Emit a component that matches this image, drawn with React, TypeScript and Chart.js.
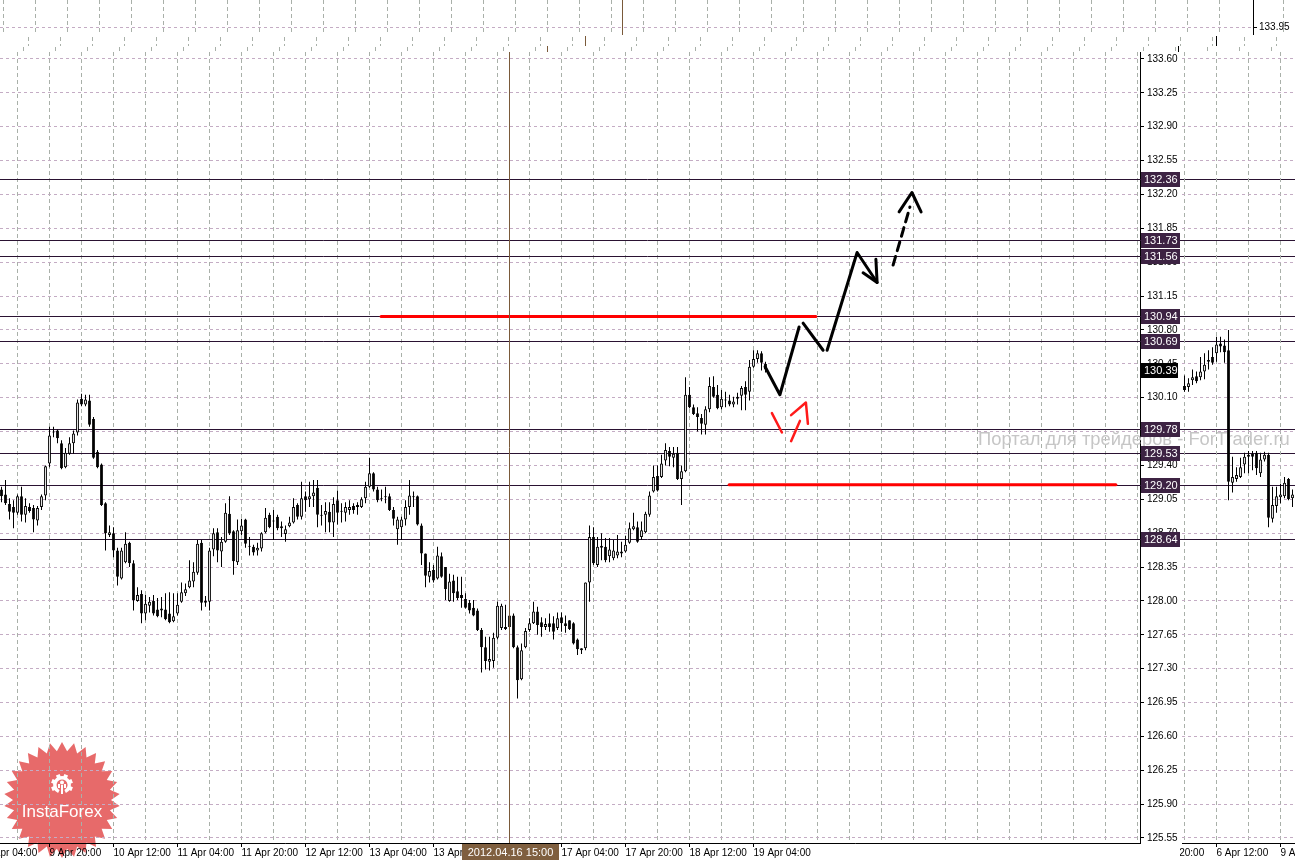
import React, { useEffect, useRef } from 'react';
import { Chart, registerables } from 'chart.js';

Chart.register(...registerables);

// ---------- main chart candles (hourly bars, index 0 = first visible bar) ----------
const mainOpen = [
  129.15,129.10,129.00,128.97,128.91,129.08,128.89,128.97,128.96,128.83,
  128.97,129.09,129.42,129.74,129.76,129.63,129.38,129.52,129.63,129.74,
  130.09,130.03,130.07,129.88,129.54,129.41,129.01,128.68,128.70,128.52,
  128.23,128.40,128.60,128.39,128.00,128.07,127.87,127.95,128.00,127.91,
  127.90,127.91,127.87,127.79,127.87,127.99,128.08,128.14,128.20,128.29,
  128.60,127.98,127.99,128.53,128.71,128.51,128.61,128.90,128.72,128.40,
  128.72,128.84,128.57,128.56,128.52,128.54,128.71,128.89,128.83,128.87,
  128.77,128.69,128.77,128.81,128.99,128.87,129.08,129.05,129.08,129.17,
  128.89,128.89,128.92,128.81,129.04,128.93,128.91,128.94,128.98,128.99,
  128.97,129.06,129.18,129.32,129.15,129.06,129.08,129.08,128.94,128.74,
  128.76,128.84,128.97,129.08,129.08,128.78,128.49,128.25,128.32,128.23,
  128.46,128.35,128.00,128.21,128.10,128.06,128.02,127.98,127.93,127.90,
  127.70,127.52,127.37,127.38,127.62,127.72,127.73,127.73,127.85,127.52,
  127.19,127.52,127.70,127.77,127.89,127.78,127.73,127.77,127.77,127.72,
  127.83,127.77,127.80,127.77,127.60,127.51,127.51,128.19,128.66,128.37,
  128.57,128.56,128.46,128.44,128.47,128.49,128.51,128.60,128.74,128.76,
  128.66,128.71,128.89,129.13,129.29,129.28,129.45,129.55,129.48,129.53,
  129.26,129.34,130.13,130.00,129.94,129.89,129.82,129.98,130.21,130.13,
  130.00,130.07,130.07,130.03,130.11,130.12,130.21,130.16,130.42,130.50,
  130.56,130.45,
];
const mainHigh = [
  129.18,129.25,129.06,129.04,129.10,129.18,129.06,129.01,128.99,128.98,
  129.10,129.40,129.80,129.80,129.77,129.66,129.58,129.69,129.76,130.08,
  130.14,130.13,130.13,129.90,129.56,129.42,129.02,128.78,128.76,128.55,
  128.55,128.71,128.61,128.42,128.14,128.11,128.06,128.04,128.06,128.03,
  128.04,128.08,128.09,128.08,128.08,128.19,128.18,128.42,128.40,128.63,
  128.63,128.05,128.55,128.75,128.75,128.66,129.01,129.08,128.73,128.84,
  128.85,128.85,128.66,128.58,128.60,128.71,128.96,128.91,128.94,128.89,
  128.82,128.78,128.87,129.06,129.01,129.23,129.13,129.23,129.25,129.25,
  128.99,129.02,129.02,129.07,129.14,129.01,129.02,129.04,129.01,129.02,
  129.07,129.23,129.48,129.33,129.18,129.15,129.18,129.11,128.97,128.87,
  128.87,129.04,129.25,129.13,129.09,128.80,128.49,128.40,128.37,128.56,
  128.50,128.35,128.28,128.27,128.25,128.25,128.08,128.01,128.01,127.92,
  127.72,127.63,127.63,127.67,127.99,127.97,127.96,127.90,127.87,127.54,
  127.56,127.72,127.82,127.99,127.94,127.83,127.82,127.87,127.84,127.88,
  127.88,127.85,127.80,127.78,127.61,127.51,128.19,128.78,128.76,128.66,
  128.70,128.65,128.65,128.63,128.68,128.61,128.67,128.81,128.91,128.82,
  128.82,128.92,129.13,129.40,129.40,129.51,129.63,129.59,129.59,129.59,
  129.40,130.31,130.21,130.03,130.00,129.93,130.01,130.31,130.32,130.23,
  130.18,130.16,130.13,130.11,130.15,130.22,130.27,130.49,130.59,130.59,
  130.58,130.47,
];
const mainLow = [
  129.02,128.99,128.84,128.75,128.89,128.82,128.81,128.91,128.71,128.78,
  128.94,129.04,129.38,129.69,129.63,129.36,129.37,129.51,129.52,129.71,
  130.01,130.01,129.80,129.47,129.37,128.98,128.52,128.66,128.45,128.16,
  128.22,128.39,128.35,127.90,127.99,127.77,127.80,127.88,127.85,127.83,
  127.83,127.80,127.77,127.78,127.85,127.98,128.05,128.13,128.14,128.27,
  127.90,127.94,127.90,128.46,128.40,128.35,128.60,128.68,128.27,128.37,
  128.68,128.55,128.47,128.47,128.47,128.51,128.70,128.75,128.63,128.73,
  128.66,128.61,128.76,128.80,128.84,128.84,128.92,128.97,128.97,128.76,
  128.78,128.71,128.71,128.66,128.79,128.81,128.82,128.89,128.90,128.89,
  128.96,129.01,129.17,129.13,129.02,129.03,129.01,128.93,128.78,128.58,
  128.63,128.78,128.89,128.97,128.78,128.37,128.14,128.19,128.19,128.22,
  128.24,128.01,127.99,127.99,128.01,127.93,127.92,127.87,127.84,127.69,
  127.26,127.29,127.28,127.31,127.60,127.70,127.70,127.70,127.51,126.99,
  127.18,127.51,127.68,127.76,127.65,127.63,127.70,127.68,127.60,127.70,
  127.68,127.67,127.70,127.55,127.44,127.45,127.49,127.99,128.37,128.35,
  128.42,128.40,128.40,128.42,128.44,128.45,128.50,128.59,128.73,128.60,
  128.63,128.70,128.87,129.12,129.13,129.27,129.40,129.39,129.38,129.25,
  128.99,129.33,129.99,129.92,129.75,129.72,129.72,129.95,130.10,129.98,
  129.98,130.00,130.01,130.00,130.03,129.97,129.97,130.07,130.41,130.46,
  130.38,130.36,
];
const mainClose = [
  129.08,129.01,128.92,128.91,129.08,128.89,128.98,128.93,128.84,128.96,
  129.08,129.39,129.71,129.75,129.68,129.37,129.53,129.63,129.73,130.05,
  130.03,130.08,129.82,129.48,129.38,128.99,128.70,128.71,128.52,128.25,
  128.52,128.59,128.39,128.01,128.06,127.87,127.97,127.99,127.87,127.84,
  127.92,127.81,127.78,127.84,127.96,128.09,128.12,128.21,128.30,128.59,
  127.98,128.00,128.52,128.70,128.52,128.61,128.91,128.70,128.41,128.73,
  128.78,128.59,128.56,128.50,128.55,128.70,128.86,128.76,128.82,128.75,
  128.75,128.74,128.81,128.97,128.87,129.06,129.04,129.08,129.12,128.89,
  128.88,128.93,128.81,129.00,128.91,128.92,128.97,128.97,128.94,128.97,
  129.05,129.18,129.32,129.15,129.04,129.05,129.07,128.94,128.85,128.84,
  128.84,128.97,129.09,129.07,128.79,128.49,128.26,128.31,128.21,128.47,
  128.25,128.12,128.20,128.08,128.03,128.03,127.93,127.90,127.85,127.70,
  127.52,127.38,127.40,127.62,127.95,127.95,127.71,127.85,127.52,127.18,
  127.49,127.69,127.77,127.89,127.75,127.73,127.76,127.73,127.68,127.82,
  127.77,127.74,127.71,127.56,127.50,127.49,128.19,128.66,128.39,128.56,
  128.55,128.42,128.53,128.52,128.51,128.51,128.58,128.75,128.77,128.61,
  128.73,128.90,129.09,129.28,129.14,129.42,129.56,129.49,129.52,129.26,
  129.34,130.13,130.00,129.93,129.90,129.83,129.98,130.22,130.11,129.99,
  130.09,130.08,130.03,130.06,130.09,130.20,130.13,130.42,130.50,130.56,
  130.46,130.39,
];

// ---------- right-hand fragment candles ----------
const sideOpen = [130.22,130.21,130.28,130.32,130.31,130.37,130.47,130.52,130.56,130.66,130.64,130.59,129.22,129.26,129.28,129.41,129.49,129.52,129.53,129.32,129.46,129.51,128.85,128.98,129.07,129.08,129.26,129.06];
const sideHigh = [130.33,130.30,130.39,130.37,130.52,130.56,130.59,130.62,130.73,130.73,130.70,130.80,129.49,129.38,129.48,129.53,129.55,129.55,129.55,129.53,129.54,129.53,129.18,129.18,129.21,129.28,129.27,129.15];
const sideLow = [130.16,130.16,130.23,130.25,130.28,130.29,130.39,130.44,130.47,130.57,130.46,129.04,129.12,129.23,129.27,129.32,129.32,129.35,129.30,129.28,129.44,128.76,128.81,128.91,129.01,129.06,129.04,128.97];
const sideClose = [130.18,130.25,130.31,130.27,130.37,130.44,130.49,130.46,130.65,130.63,130.57,129.23,129.28,129.30,129.38,129.49,129.51,129.49,129.37,129.46,129.51,128.86,128.99,129.08,129.10,129.22,129.05,129.10];

// ---------- axes ----------
const priceTicks = [125.55,125.90,126.25,126.60,126.95,127.30,127.65,128.00,128.35,128.70,129.05,129.40,129.75,130.10,130.45,130.80,131.15,131.50,131.85,132.20,132.55,132.90,133.25,133.60];
const priceMin = 125.498;
const priceMax = 133.672;
const mainTimeLabels = ['9 Apr 04:00','9 Apr 20:00','10 Apr 12:00','11 Apr 04:00','11 Apr 20:00','12 Apr 12:00','13 Apr 04:00','13 Apr 20:00','16 Apr 12:00','17 Apr 04:00','17 Apr 20:00','18 Apr 12:00','19 Apr 04:00'];
const mainLabelStart = -4; // bar index of the first time label
const sideTimeLabels = ['5 Apr 20:00','6 Apr 12:00','9 Apr 04:00'];
const sideLabelStart = -8;
const barsPerLabel = 16;
const barsPerGrid = 8;

// ---------- levels & annotations ----------
const levelValues = [132.36,131.73,131.56,130.94,130.69,129.78,129.53,129.20,128.64];
const currentPrice = 130.39;
const crosshairBar = 127;
const crosshairLabel = '2012.04.16 15:00';
const topStripLabel = '133.95';
const watermark = 'Портал для трейдеров - ForTrader.ru';
const logoText = 'InstaForex';

const redSegments = [
  [[94.9,130.94],[203.6,130.94]],
  [[181.9,129.20],[278.6,129.20]],
];
const forecastSolid = [
  [[190.9,130.42],[194.6,130.13],[199.4,130.83]],
  [[200.4,130.87],[205.4,130.59]],
  [[206.4,130.59],[213.9,131.60],[218.9,131.29]],
  [[215.4,131.39],[218.9,131.29],[218.6,131.53]],
  [[224.4,132.02],[227.6,132.22],[229.9,132.02]],
];
const forecastDashed = [
  [[222.9,131.47],[227.1,132.07]],
];
const altForecast = [
  [[192.6,129.94],[195.1,129.74]],
  [[197.4,129.65],[199.6,129.86]],
  [[197.4,129.92],[201.1,130.05],[201.6,129.83]],
];

const FONT = '"Liberation Sans", Arial, sans-serif';
const H_GRID = '#c4acc4';
const V_GRID = '#a9b0a9';
const LEVEL = '#2a1232';

Chart.defaults.font.family = FONT;

function candleSets(open: number[], high: number[], low: number[], close: number[]) {
  const wick = open.map((_, i) => ({ x: i, y: [low[i], high[i]] }));
  const body = open.map((o, i) => ({ x: i, y: [o, close[i]] }));
  const fills = open.map((o, i) => (close[i] > o ? '#ffffff' : '#000000'));
  return [
    { type: 'bar', data: wick, backgroundColor: '#000000', borderWidth: 0, maxBarThickness: 1, grouped: false, inflateAmount: 0, order: 3 },
    { type: 'bar', data: body, backgroundColor: fills, borderColor: '#000000', borderWidth: 1, borderSkipped: false, maxBarThickness: 3, grouped: false, inflateAmount: 0, minBarLength: 1, order: 2 },
  ];
}

function lineSet(pts: number[][], color: string, width: number, dash: number[] = []) {
  return {
    type: 'line',
    data: pts.map(([x, y]) => ({ x, y })),
    borderColor: color,
    borderWidth: width,
    borderDash: dash,
    pointRadius: 0,
    fill: false,
    tension: 0,
    borderCapStyle: 'round',
    borderJoinStyle: 'round',
    order: 0,
  };
}

function labelAt(v: number, start: number, labels: string[]) {
  const k = (v - start) / barsPerLabel;
  if (Math.abs(k - Math.round(k)) < 1e-6) {
    const r = Math.round(k);
    if (r >= 0 && r < labels.length) return labels[r];
  }
  return '';
}

function seg(ctx: CanvasRenderingContext2D, x1: number, y1: number, x2: number, y2: number) {
  ctx.beginPath();
  ctx.moveTo(x1, y1);
  ctx.lineTo(x2, y2);
  ctx.stroke();
}

// time labels whose tick lies left of the visible range (only their tail shows)
function offRangeLabels(id: string, start: number, labels: string[]) {
  return {
    id,
    afterDraw(chart: any) {
      const xs = chart.scales.x;
      const ctx = chart.ctx;
      ctx.save();
      ctx.fillStyle = '#000000';
      ctx.font = `10px ${FONT}`;
      ctx.textAlign = 'left';
      ctx.textBaseline = 'middle';
      labels.forEach((lab, k) => {
        const v = start + k * barsPerLabel;
        if (v < xs.min) ctx.fillText(lab, xs.getPixelForValue(v), xs.top + 10);
      });
      ctx.restore();
    },
  };
}

function drawTopStrip(ctx: CanvasRenderingContext2D) {
  ctx.lineWidth = 1;
  ctx.setLineDash([4, 3]);
  ctx.strokeStyle = V_GRID;
  for (let x = 3.5; x < 1295; x += 32) if (Math.abs(x - 1253.5) > 4) seg(ctx, x, 0, x, 35);
  for (let x = 28.5; x < 1295; x += 32) seg(ctx, x, 37, x, 46);
  for (let x = 23.5; x < 1295; x += 32) seg(ctx, x, 47, x, 52);
  ctx.setLineDash([3, 3]);
  ctx.strokeStyle = H_GRID;
  seg(ctx, 0, 27.5, 1252, 27.5);
  ctx.setLineDash([]);
  ctx.strokeStyle = '#000';
  seg(ctx, 1253.5, 0, 1253.5, 35);
  seg(ctx, 1254, 27.5, 1257, 27.5);
  seg(ctx, 1216.5, 36, 1216.5, 46);
  seg(ctx, 1178.5, 46, 1178.5, 52);
  ctx.strokeStyle = '#7a5a3a';
  seg(ctx, 622.5, 0, 622.5, 35);
  seg(ctx, 585.5, 36, 585.5, 46);
  seg(ctx, 547.5, 46, 547.5, 52);
  ctx.fillStyle = '#000';
  ctx.font = `10px ${FONT}`;
  ctx.textAlign = 'left';
  ctx.textBaseline = 'middle';
  ctx.fillText(topStripLabel, 1259, 27.5);
}

function drawStar(ctx: CanvasRenderingContext2D) {
  const cx = 62, cy = 800, ro = 58, ri = 49, n = 30;
  ctx.fillStyle = 'rgba(222,48,48,0.72)';
  ctx.beginPath();
  for (let k = 0; k < 2 * n; k++) {
    const r = k % 2 ? ri : ro;
    const a = -Math.PI / 2 + (k * Math.PI) / n;
    const px = cx + r * Math.cos(a);
    const py = cy + r * Math.sin(a);
    if (k === 0) ctx.moveTo(px, py); else ctx.lineTo(px, py);
  }
  ctx.closePath();
  ctx.fill();
}

function drawLogoMark(ctx: CanvasRenderingContext2D) {
  const gx = 62, gy = 785;
  ctx.fillStyle = '#ffffff';
  for (let k = 0; k < 8; k++) {
    const a = (k * Math.PI) / 4 + Math.PI / 8;
    if (Math.abs(a - Math.PI / 2) < 0.5) continue;
    ctx.save();
    ctx.translate(gx, gy);
    ctx.rotate(a);
    ctx.fillRect(7, -2, 4, 4);
    ctx.restore();
  }
  ctx.beginPath();
  ctx.arc(gx, gy, 9, Math.PI / 2 + 0.45, Math.PI / 2 - 0.45 + Math.PI * 2);
  ctx.arc(gx, gy, 5.5, Math.PI / 2 - 0.45 + Math.PI * 2, Math.PI / 2 + 0.45, true);
  ctx.closePath();
  ctx.fill();
  ctx.beginPath();
  ctx.arc(gx, gy - 2.5, 2, 0, Math.PI * 2);
  ctx.fill();
  ctx.fillRect(gx - 1, gy, 2, 9);
  ctx.fillRect(gx - 4, gy - 1, 2, 4);
  ctx.fillRect(gx + 2, gy - 1, 2, 4);
  ctx.font = `17px ${FONT}`;
  ctx.textAlign = 'center';
  ctx.textBaseline = 'middle';
  ctx.fillText(logoText, 62, 812);
}

const mainDecor = {
  id: 'mainDecor',
  beforeDraw(chart: any) {
    const ctx = chart.ctx;
    ctx.save();
    ctx.fillStyle = '#ffffff';
    ctx.fillRect(0, 0, chart.width, chart.height);
    drawTopStrip(ctx);
    drawStar(ctx);
    ctx.restore();
  },
  beforeDatasetsDraw(chart: any) {
    const ctx = chart.ctx;
    const ys = chart.scales.y;
    ctx.save();
    ctx.strokeStyle = LEVEL;
    ctx.lineWidth = 1;
    levelValues.forEach((v) => {
      const py = Math.round(ys.getPixelForValue(v)) + 0.5;
      seg(ctx, 0, py, chart.width, py);
    });
    ctx.restore();
  },
  afterDatasetsDraw(chart: any) {
    const ctx = chart.ctx;
    const a = chart.chartArea;
    const px = Math.floor(chart.scales.x.getPixelForValue(crosshairBar)) + 0.5;
    ctx.save();
    ctx.strokeStyle = '#7a5a3a';
    ctx.lineWidth = 1;
    seg(ctx, px, a.top, px, a.bottom);
    ctx.restore();
  },
  afterDraw(chart: any) {
    const ctx = chart.ctx;
    const ys = chart.scales.y;
    const a = chart.chartArea;
    ctx.save();
    // watermark
    ctx.fillStyle = '#c6c6c6';
    ctx.font = `17px ${FONT}`;
    ctx.textAlign = 'left';
    ctx.textBaseline = 'middle';
    const w = ctx.measureText(watermark).width;
    const size = (17 * 312) / w;
    ctx.font = `${size.toFixed(2)}px ${FONT}`;
    ctx.fillText(watermark, 978, 440);
    // level boxes
    ctx.font = `11px ${FONT}`;
    levelValues.forEach((v) => {
      const py = Math.round(ys.getPixelForValue(v));
      ctx.fillStyle = '#3d2343';
      ctx.fillRect(a.right + 1, py - 7, 39, 15);
      ctx.fillStyle = '#ffffff';
      ctx.fillText(v.toFixed(2), a.right + 4, py + 0.5);
    });
    const cp = Math.round(ys.getPixelForValue(currentPrice));
    ctx.fillStyle = '#000000';
    ctx.fillRect(a.right + 1, cp - 7, 37, 15);
    ctx.fillStyle = '#ffffff';
    ctx.fillText(currentPrice.toFixed(2), a.right + 4, cp + 0.5);
    // crosshair time box
    const cx = chart.scales.x.getPixelForValue(crosshairBar);
    ctx.fillStyle = '#7f5f3f';
    ctx.fillRect(Math.round(cx) - 48, a.bottom + 1, 97, 16);
    ctx.fillStyle = '#ffffff';
    ctx.textAlign = 'center';
    ctx.fillText(crosshairLabel, Math.round(cx) + 0.5, a.bottom + 9.5);
    drawLogoMark(ctx);
    ctx.restore();
  },
};

function xScale(min: number, max: number, start: number, labels: string[]) {
  return {
    type: 'linear',
    min,
    max,
    offset: false,
    bounds: 'data',
    afterFit: (s: any) => {
      s.height = 17;
      s.paddingLeft = 0;
      s.paddingRight = 0;
    },
    afterBuildTicks: (s: any) => {
      const t = [];
      for (let v = start; v <= max + 1e-6; v += barsPerGrid) if (v >= min) t.push({ value: v });
      s.ticks = t;
    },
    grid: {
      offset: false,
      color: V_GRID,
      lineWidth: 1,
      tickLength: 4,
      tickColor: (c: any) => (c.tick && labelAt(c.tick.value, start, labels) ? '#000000' : 'rgba(0,0,0,0)'),
    },
    border: { color: '#000000', width: 1, dash: [4, 3] },
    ticks: {
      autoSkip: false,
      maxRotation: 0,
      minRotation: 0,
      align: 'start',
      padding: 0,
      color: '#000000',
      font: { family: FONT, size: 10 },
      callback: (v: number) => labelAt(v, start, labels),
    },
  };
}

function mainConfig(): any {
  const datasets: any[] = [
    ...candleSets(mainOpen, mainHigh, mainLow, mainClose),
    ...redSegments.map((p) => lineSet(p, '#ff0000', 3)),
    ...altForecast.map((p) => lineSet(p, '#ff1a1a', 2.5)),
    ...forecastSolid.map((p) => lineSet(p, '#000000', 3)),
    ...forecastDashed.map((p) => lineSet(p, '#000000', 3, [9, 6])),
  ];
  return {
    type: 'bar',
    data: { datasets },
    options: {
      responsive: false,
      animation: false,
      events: [],
      layout: { autoPadding: false, padding: { left: 0, right: 0, top: 52, bottom: 0 } },
      plugins: { legend: { display: false }, tooltip: { enabled: false } },
      scales: {
        x: xScale(-0.375, 284.625, mainLabelStart, mainTimeLabels),
        y: {
          type: 'linear',
          position: 'right',
          min: priceMin,
          max: priceMax,
          beginAtZero: false,
          afterFit: (s: any) => { s.width = 155; s.paddingTop = 0; s.paddingBottom = 0; },
          afterBuildTicks: (s: any) => { s.ticks = priceTicks.map((v) => ({ value: v })); },
          grid: { color: H_GRID, lineWidth: 1, tickLength: 4, tickColor: '#000000' },
          border: { color: '#000000', width: 1, dash: [3, 3] },
          ticks: {
            autoSkip: false,
            padding: 3,
            crossAlign: 'near',
            color: '#000000',
            font: { family: FONT, size: 10 },
            callback: (v: number) => Number(v).toFixed(2),
          },
        },
      },
    },
    plugins: [mainDecor, offRangeLabels('mainOffLabels', mainLabelStart, mainTimeLabels)],
  };
}

function sideConfig(): any {
  return {
    type: 'bar',
    data: { datasets: candleSets(sideOpen, sideHigh, sideLow, sideClose) },
    options: {
      responsive: false,
      animation: false,
      events: [],
      layout: { autoPadding: false, padding: { left: 2, right: 0, top: 52, bottom: 0 } },
      plugins: { legend: { display: false }, tooltip: { enabled: false } },
      scales: {
        x: xScale(-0.625, 27.625, sideLabelStart, sideTimeLabels),
        y: {
          type: 'linear',
          position: 'left',
          min: priceMin,
          max: priceMax,
          beginAtZero: false,
          afterFit: (s: any) => { s.width = 0; s.paddingTop = 0; s.paddingBottom = 0; },
          afterBuildTicks: (s: any) => { s.ticks = priceTicks.map((v) => ({ value: v })); },
          grid: { color: H_GRID, lineWidth: 1, drawTicks: false },
          border: { display: false, dash: [3, 3] },
          ticks: { display: false },
        },
      },
    },
    plugins: [offRangeLabels('sideOffLabels', sideLabelStart, sideTimeLabels)],
  };
}

export default function App() {
  const mainRef = useRef<HTMLCanvasElement>(null);
  const sideRef = useRef<HTMLCanvasElement>(null);
  useEffect(() => {
    document.body.style.margin = '0';
    const main = new Chart(mainRef.current as HTMLCanvasElement, mainConfig());
    const side = new Chart(sideRef.current as HTMLCanvasElement, sideConfig());
    return () => {
      main.destroy();
      side.destroy();
    };
  }, []);
  return (
    <div style={{ position: 'fixed', left: 0, top: 0, width: 1295, height: 860, background: '#ffffff', overflow: 'hidden' }}>
      <canvas ref={mainRef} width={1295} height={860} style={{ position: 'absolute', left: 0, top: 0 }} />
      <canvas ref={sideRef} width={115} height={860} style={{ position: 'absolute', left: 1180, top: 0 }} />
    </div>
  );
}
